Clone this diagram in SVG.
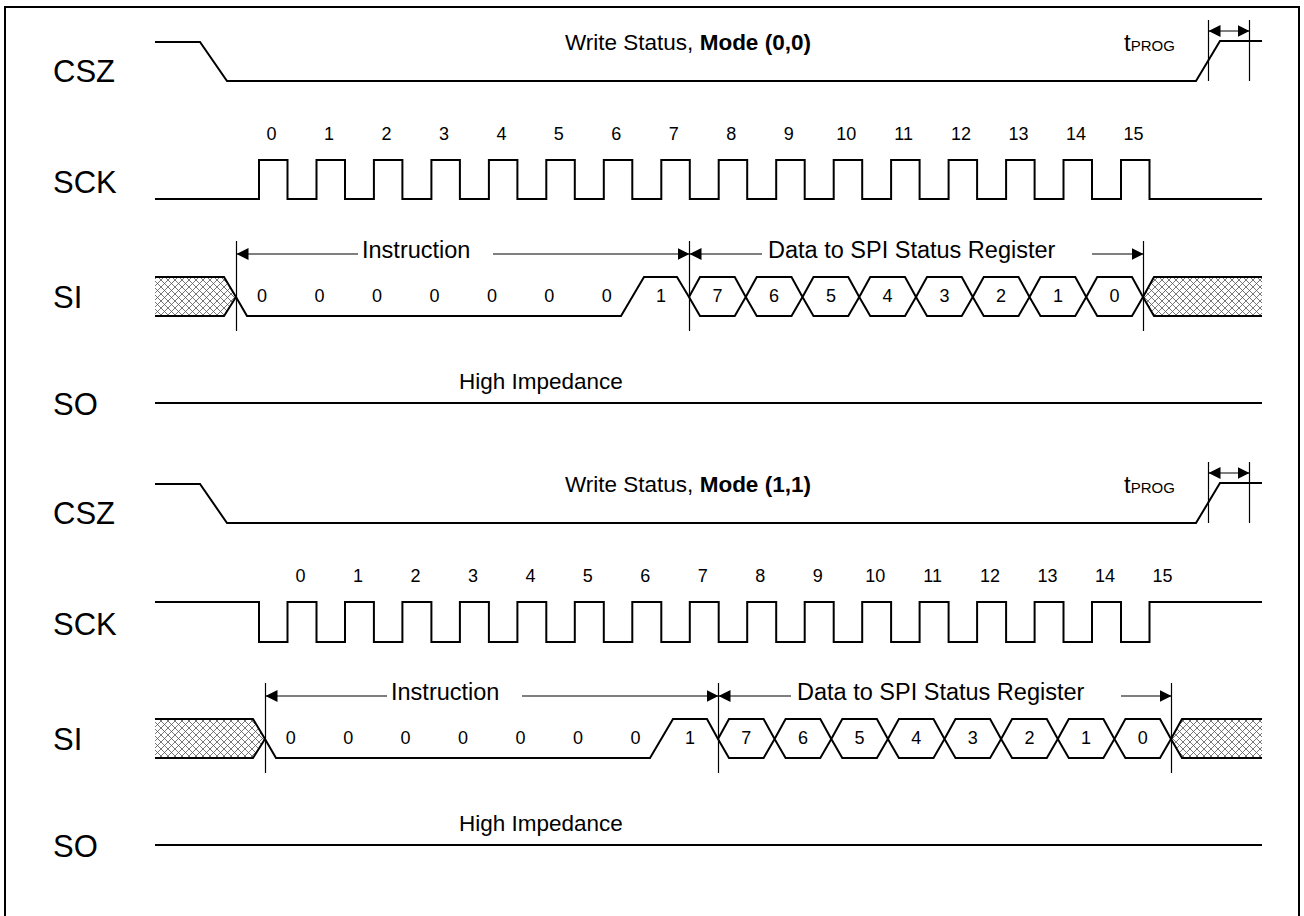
<svg xmlns="http://www.w3.org/2000/svg" width="1304" height="916" viewBox="0 0 1304 916">
<style>
.sig{fill:none;stroke:#000;stroke-width:2;stroke-linejoin:miter}
.thin{fill:none;stroke:#000;stroke-width:1.2}
.arr{fill:none;stroke:#000;stroke-width:1.2;marker-end:url(#ah)}
.dbl{fill:none;stroke:#000;stroke-width:1.2;marker-start:url(#ahs);marker-end:url(#ah)}
.hatch{fill:url(#xh);stroke:none}
text{font-family:"Liberation Sans",Arial,sans-serif;fill:#000}
.lbl{font-size:31px}
.num{font-size:18px;text-anchor:middle}
.med{font-size:22.5px}
.bus{font-size:23.5px}
.big{font-size:24px}
.sub{font-size:15px}
</style>
<defs>
<marker id="ah" markerUnits="userSpaceOnUse" markerWidth="12" markerHeight="12" refX="12" refY="6" orient="auto"><path d="M0,0 L12,6 L0,12 Z" fill="#000"/></marker>
<marker id="ahs" markerUnits="userSpaceOnUse" markerWidth="12" markerHeight="12" refX="12" refY="6" orient="auto-start-reverse"><path d="M0,0 L12,6 L0,12 Z" fill="#000"/></marker>
<pattern id="xh" patternUnits="userSpaceOnUse" width="7" height="7"><path d="M0,0 L7,7 M7,0 L0,7" stroke="#555" stroke-width="0.8" fill="none"/></pattern>
</defs>
<rect x="5" y="7" width="1294" height="940" fill="#fff" stroke="#000" stroke-width="2"/>

<g id="mode00">
<g id="csz1">
<text class="lbl" x="53" y="82">CSZ</text>
<path class="sig" d="M155,42 H200 L227,81 H1196 L1220,41 H1262"/>
<text class="med" x="565" y="50">Write Status, <tspan font-weight="bold">Mode (0,0)</tspan></text>
<text x="1124" y="51"><tspan class="big">t</tspan><tspan class="sub">PROG</tspan></text>
</g>
<g id="sck1">
<text class="lbl" x="53" y="193">SCK</text>
<path class="sig" d="M155,199 H259 V160 H287.5 V199 H316.5 V160 H345 V199 H373.9 V160 H402.4 V199 H431.4 V160 H459.9 V199 H488.9 V160 H517.4 V199 H546.3 V160 H574.8 V199 H603.8 V160 H632.3 V199 H661.3 V160 H689.8 V199 H718.7 V160 H747.2 V199 H776.2 V160 H804.7 V199 H833.7 V160 H862.2 V199 H891.1 V160 H919.6 V199 H948.6 V160 H977.1 V199 H1006.1 V160 H1034.6 V199 H1063.5 V160 H1092 V199 H1121 V160 H1149.5 V199 H1262"/>
<text class="num" x="271.5" y="140">0</text><text class="num" x="329" y="140">1</text><text class="num" x="386.4" y="140">2</text><text class="num" x="443.9" y="140">3</text><text class="num" x="501.4" y="140">4</text><text class="num" x="558.8" y="140">5</text><text class="num" x="616.3" y="140">6</text><text class="num" x="673.8" y="140">7</text><text class="num" x="731.2" y="140">8</text><text class="num" x="788.7" y="140">9</text><text class="num" x="846.2" y="140">10</text><text class="num" x="903.6" y="140">11</text><text class="num" x="961.1" y="140">12</text><text class="num" x="1018.6" y="140">13</text><text class="num" x="1076" y="140">14</text><text class="num" x="1133.5" y="140">15</text>
</g>
<g id="si1">
<text class="lbl" x="53" y="308">SI</text>
<path class="hatch" d="M155,277 H224 L236,297 L224,316 H155 Z"/>
<path class="sig" d="M155,277 H224 L236,297 L224,316 H155"/>
<path class="sig" d="M236,297 L247,316 H621 L644,277 H677 L689,297"/>
<path class="sig" d="M689,297 L700,277 H734.75 L745.75,297 L734.75,316 H700 Z M745.75,297 L756.75,277 H791.5 L802.5,297 L791.5,316 H756.75 Z M802.5,297 L813.5,277 H848.25 L859.25,297 L848.25,316 H813.5 Z M859.25,297 L870.25,277 H905 L916,297 L905,316 H870.25 Z M916,297 L927,277 H961.75 L972.75,297 L961.75,316 H927 Z M972.75,297 L983.75,277 H1018.5 L1029.5,297 L1018.5,316 H983.75 Z M1029.5,297 L1040.5,277 H1075.25 L1086.25,297 L1075.25,316 H1040.5 Z M1086.25,297 L1097.25,277 H1132 L1143,297 L1132,316 H1097.25 Z"/>
<path class="hatch" d="M1143,297 L1154,277 H1262 V316 H1154 Z"/>
<path class="sig" d="M1262,277 H1154 L1143,297 L1154,316 H1262"/>
<text class="num" x="262" y="302">0</text><text class="num" x="319.5" y="302">0</text><text class="num" x="377" y="302">0</text><text class="num" x="434.4" y="302">0</text><text class="num" x="491.9" y="302">0</text><text class="num" x="549.3" y="302">0</text><text class="num" x="606.8" y="302">0</text><text class="num" x="661" y="302">1</text>
<text class="num" x="717.4" y="302">7</text><text class="num" x="774.1" y="302">6</text><text class="num" x="830.9" y="302">5</text><text class="num" x="887.6" y="302">4</text><text class="num" x="944.4" y="302">3</text><text class="num" x="1001.1" y="302">2</text><text class="num" x="1057.9" y="302">1</text><text class="num" x="1114.6" y="302">0</text>
<text class="bus" x="362" y="258">Instruction</text>
<text class="bus" x="768" y="258">Data to SPI Status Register</text>
</g>
<g id="so1">
<text class="lbl" x="53" y="415">SO</text>
<path class="sig" d="M155,403 H1262"/>
<text class="med" x="459" y="389">High Impedance</text>
</g>
</g>

<g id="mode11">
<g id="csz2">
<text class="lbl" x="53" y="524">CSZ</text>
<path class="sig" d="M155,484 H200 L227,523 H1196 L1220,483 H1262"/>
<text class="med" x="565" y="492">Write Status, <tspan font-weight="bold">Mode (1,1)</tspan></text>
<text x="1124" y="493"><tspan class="big">t</tspan><tspan class="sub">PROG</tspan></text>
</g>
<g id="sck2">
<text class="lbl" x="53" y="635">SCK</text>
<path class="sig" d="M155,602 H259 V642 H287.5 V602 H316.5 V642 H345 V602 H373.9 V642 H402.4 V602 H431.4 V642 H459.9 V602 H488.9 V642 H517.4 V602 H546.3 V642 H574.8 V602 H603.8 V642 H632.3 V602 H661.3 V642 H689.8 V602 H718.7 V642 H747.2 V602 H776.2 V642 H804.7 V602 H833.7 V642 H862.2 V602 H891.1 V642 H919.6 V602 H948.6 V642 H977.1 V602 H1006.1 V642 H1034.6 V602 H1063.5 V642 H1092 V602 H1121 V642 H1149.5 V602 H1262"/>
<text class="num" x="300.5" y="582">0</text><text class="num" x="358" y="582">1</text><text class="num" x="415.4" y="582">2</text><text class="num" x="472.9" y="582">3</text><text class="num" x="530.4" y="582">4</text><text class="num" x="587.8" y="582">5</text><text class="num" x="645.3" y="582">6</text><text class="num" x="702.8" y="582">7</text><text class="num" x="760.2" y="582">8</text><text class="num" x="817.7" y="582">9</text><text class="num" x="875.2" y="582">10</text><text class="num" x="932.6" y="582">11</text><text class="num" x="990.1" y="582">12</text><text class="num" x="1047.6" y="582">13</text><text class="num" x="1105" y="582">14</text><text class="num" x="1162.5" y="582">15</text>
</g>
<g id="si2">
<text class="lbl" x="53" y="750">SI</text>
<path class="hatch" d="M155,719 H253 L265,739 L253,758 H155 Z"/>
<path class="sig" d="M155,719 H253 L265,739 L253,758 H155"/>
<path class="sig" d="M265,739 L276,758 H650 L673,719 H707 L718,739"/>
<path class="sig" d="M718,739 L729,719 H763.6 L774.6,739 L763.6,758 H729 Z M774.6,739 L785.6,719 H820.3 L831.3,739 L820.3,758 H785.6 Z M831.3,739 L842.3,719 H876.9 L887.9,739 L876.9,758 H842.3 Z M887.9,739 L898.9,719 H933.5 L944.5,739 L933.5,758 H898.9 Z M944.5,739 L955.5,719 H990.1 L1001.1,739 L990.1,758 H955.5 Z M1001.1,739 L1012.1,719 H1046.8 L1057.8,739 L1046.8,758 H1012.1 Z M1057.8,739 L1068.8,719 H1103.4 L1114.4,739 L1103.4,758 H1068.8 Z M1114.4,739 L1125.4,719 H1160 L1171,739 L1160,758 H1125.4 Z"/>
<path class="hatch" d="M1171,739 L1182,719 H1262 V758 H1182 Z"/>
<path class="sig" d="M1262,719 H1182 L1171,739 L1182,758 H1262"/>
<text class="num" x="290.7" y="744">0</text><text class="num" x="348.2" y="744">0</text><text class="num" x="405.6" y="744">0</text><text class="num" x="463.1" y="744">0</text><text class="num" x="520.6" y="744">0</text><text class="num" x="578" y="744">0</text><text class="num" x="635.5" y="744">0</text><text class="num" x="690" y="744">1</text>
<text class="num" x="746.3" y="744">7</text><text class="num" x="803" y="744">6</text><text class="num" x="859.6" y="744">5</text><text class="num" x="916.2" y="744">4</text><text class="num" x="972.8" y="744">3</text><text class="num" x="1029.5" y="744">2</text><text class="num" x="1086.1" y="744">1</text><text class="num" x="1142.7" y="744">0</text>
<text class="bus" x="391" y="700">Instruction</text>
<text class="bus" x="797" y="700">Data to SPI Status Register</text>
</g>
<g id="so2">
<text class="lbl" x="53" y="857">SO</text>
<path class="sig" d="M155,845 H1262"/>
<text class="med" x="459" y="831">High Impedance</text>
</g>
</g>

<g id="connectors">
<path class="thin" d="M1208.5,20 V81 M1249.5,20 V81"/>
<path class="dbl" d="M1208.5,31 H1249.5"/>
<path class="thin" d="M236.5,241 V331 M689.5,241 V331 M1143.5,241 V331"/>
<path class="arr" d="M358,254 H236.5"/>
<path class="arr" d="M493,254 H689.5"/>
<path class="arr" d="M762,254 H689.5"/>
<path class="arr" d="M1092,254 H1143.5"/>
<path class="thin" d="M1208.5,462 V523 M1249.5,462 V523"/>
<path class="dbl" d="M1208.5,473 H1249.5"/>
<path class="thin" d="M265.5,683 V773 M718.5,683 V773 M1171.5,683 V773"/>
<path class="arr" d="M387,696 H265.5"/>
<path class="arr" d="M522,696 H718.5"/>
<path class="arr" d="M791,696 H718.5"/>
<path class="arr" d="M1121,696 H1171.5"/>
</g>
</svg>
